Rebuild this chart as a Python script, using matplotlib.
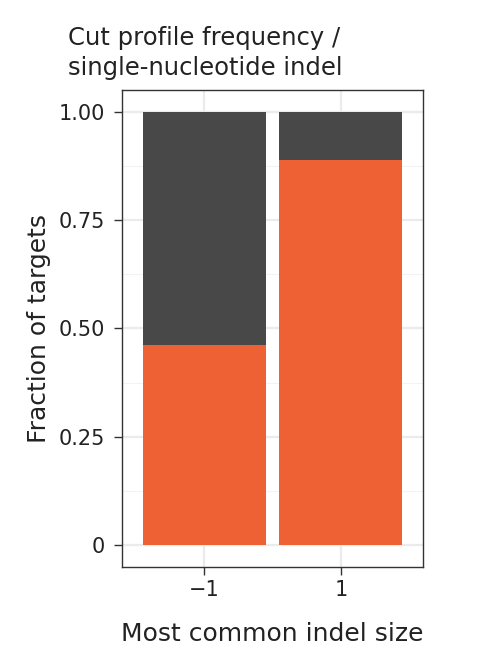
import numpy as np
import matplotlib.pyplot as plt

plt.rcParams['font.family'] = ['DejaVu Sans']

indel_sizes = ["\u22121", "1"]
frac_top = [0.463, 0.889]   # orange share
frac_total = [1.0, 1.0]
y_ticks = [0, 0.25, 0.50, 0.75, 1.00]
y_labels = ["0", "0.25", "0.50", "0.75", "1.00"]

ORANGE = "#EE6134"
DARK = "#484848"
TXT = "#222222"

fig = plt.figure(figsize=(4.88, 6.63), dpi=100)
ax = fig.add_axes([122 / 488, 1 - 567 / 663, 301 / 488, 477 / 663])

x = np.arange(len(indel_sizes))
rest = [t - f for t, f in zip(frac_total, frac_top)]
ax.bar(x, frac_top, width=0.9, color=ORANGE, zorder=3)
ax.bar(x, rest, bottom=frac_top, width=0.9, color=DARK, zorder=3)

ax.set_xlim(-0.6, len(indel_sizes) - 0.4)
ax.set_ylim(-0.05, 1.05)
ax.set_xticks(x)
ax.set_xticklabels(indel_sizes)
ax.set_yticks(y_ticks)
ax.set_yticklabels(y_labels)
ax.set_yticks(np.arange(0.125, 1.0, 0.25), minor=True)
ax.grid(True, which='major', color='#EBEBEB', lw=1.6, zorder=0)
ax.grid(True, which='minor', axis='y', color='#F3F3F3', lw=0.8, zorder=0)
ax.tick_params(which='minor', length=0)
ax.tick_params(which='major', length=6, width=1, color='#333333',
               labelsize=15, labelcolor=TXT, pad=3.5)
ax.tick_params(axis='y', pad=6)
for s in ax.spines.values():
    s.set_color('#333333')
    s.set_linewidth(1)

ax.set_xlabel("Most common indel size", fontsize=18, color=TXT, labelpad=16)
ax.set_ylabel("Fraction of targets", fontsize=18, color=TXT, labelpad=6)
fig.text(68 / 488, 1 - 26 / 663, "Cut profile frequency /\nsingle-nucleotide indel",
         fontsize=17.5, color=TXT, ha='left', va='top', linespacing=1.3)

fig.savefig("out.png", dpi=100)
